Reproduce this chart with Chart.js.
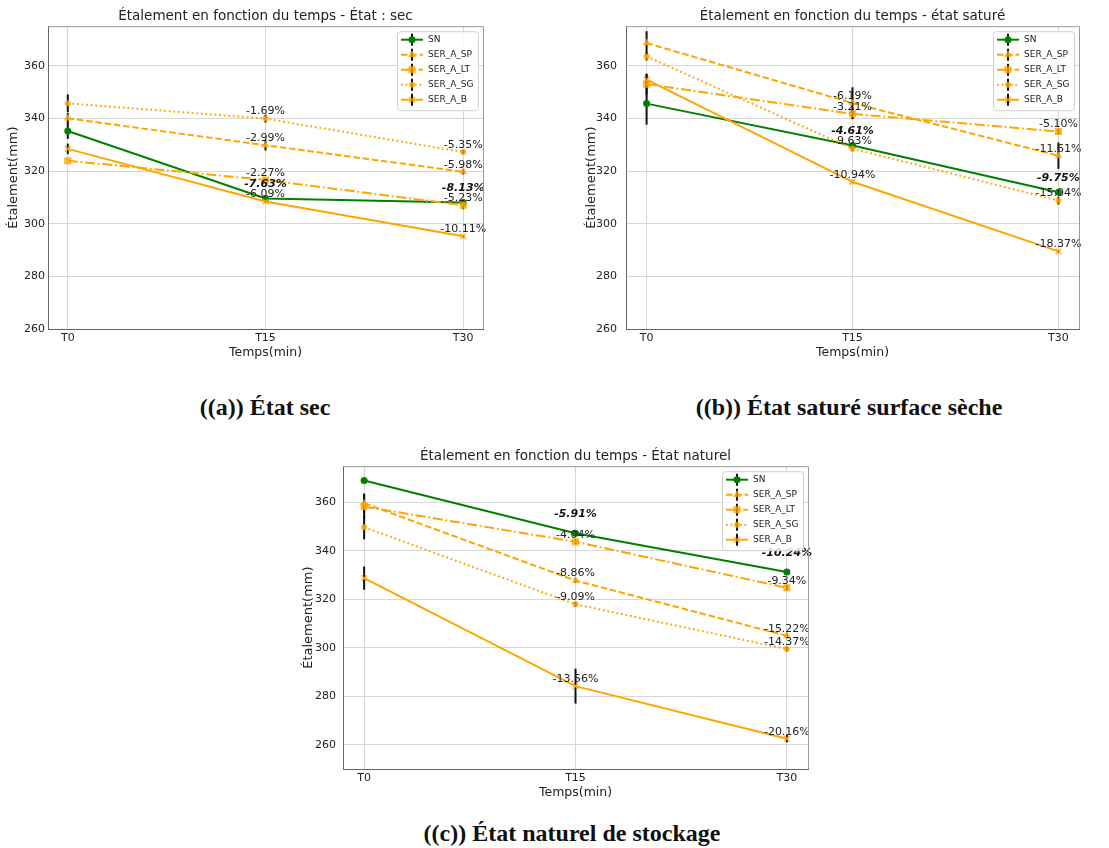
<!DOCTYPE html>
<html><head><meta charset="utf-8">
<script src="https://cdn.jsdelivr.net/npm/chart.js@4.4.1/dist/chart.umd.min.js"></script>
<style>
html,body{margin:0;padding:0;background:#fff;width:1109px;height:848px;overflow:hidden;position:relative}
canvas{position:absolute;display:block}
.cap{position:absolute;font-family:"Liberation Serif","DejaVu Serif",serif;font-weight:bold;font-size:24px;color:#111;white-space:nowrap;transform:translate(-50%,-50%)}
</style></head><body>
<canvas id="cA" width="556" height="362" style="left:0;top:0"></canvas>
<canvas id="cB" width="531" height="362" style="left:578px;top:0"></canvas>
<canvas id="cC" width="543" height="362" style="left:295px;top:440px"></canvas>
<div class="cap" style="left:265px;top:407px">((a)) État sec</div>
<div class="cap" style="left:849px;top:407px">((b)) État saturé surface sèche</div>
<div class="cap" style="left:572px;top:833px">((c)) État naturel de stockage</div>
<script>
const xLabels = ['T0', 'T15', 'T30'];
const seriesNames = ['SN', 'SER_A_SP', 'SER_A_LT', 'SER_A_SG', 'SER_A_B'];
const yTicks = [260, 280, 300, 320, 340, 360];

// (a) État sec
const secSN = [335.2, 309.6, 308.0];
const secSP = [340.0, 329.8, 319.7];
const secLT = [323.9, 316.6, 307.0];
const secSG = [345.7, 339.9, 327.2];
const secB  = [328.4, 308.4, 295.2];
const secErrSN = [3, 0.8, 1];
const secErrSP = [2, 2, 1];
const secErrLT = [0, 0.5, 1.5];
const secErrSG = [3.4, 1.5, 0.8];
const secErrB  = [2, 0.5, 0.5];
const secPctSN = [null, '-7.63%', '-8.13%'];
const secPctSP = [null, '-2.99%', '-5.98%'];
const secPctLT = [null, '-2.27%', '-5.23%'];
const secPctSG = [null, '-1.69%', '-5.35%'];
const secPctB  = [null, '-6.09%', '-10.11%'];

// (b) État saturé
const satSN = [345.6, 329.7, 311.9];
const satSP = [368.6, 345.8, 325.8];
const satLT = [353.0, 341.7, 335.0];
const satSG = [363.5, 328.5, 308.8];
const satB  = [354.7, 315.9, 289.5];
const satErrSN = [8, 1, 1];
const satErrSP = [4.5, 6, 5];
const satErrLT = [4, 2, 1];
const satErrSG = [1.5, 1, 1.5];
const satErrB  = [2, 0.5, 0.5];
const satPctSN = [null, '-4.61%', '-9.75%'];
const satPctSP = [null, '-6.19%', '-11.61%'];
const satPctLT = [null, '-3.21%', '-5.10%'];
const satPctSG = [null, '-9.63%', '-15.04%'];
const satPctB  = [null, '-10.94%', '-18.37%'];

// (c) État naturel
const natSN = [369.1, 347.3, 331.3];
const natSP = [359.7, 327.8, 305.0];
const natLT = [358.3, 343.8, 324.8];
const natSG = [349.8, 318.0, 299.5];
const natB  = [328.8, 284.2, 262.5];
const natErrSN = [0, 0, 0];
const natErrSP = [4, 1, 1];
const natErrLT = [5, 1, 1];
const natErrSG = [5, 1, 1];
const natErrB  = [4.8, 7.2, 1.5];
const natPctSN = [null, '-5.91%', '-10.24%'];
const natPctSP = [null, '-8.86%', '-15.22%'];
const natPctLT = [null, '-4.04%', '-9.34%'];
const natPctSG = [null, '-9.09%', '-14.37%'];
const natPctB  = [null, '-13.56%', '-20.16%'];

const ORANGE = '#FFA500';
const ORFILL = 'rgba(255,165,0,0.8)';
const STYLES = [
  {color: '#008000', fill: '#008000', dash: [], ps: 'circle', r: 3.5, bold: true},
  {color: ORANGE, fill: ORFILL, dash: [6.5, 2.8], ps: 'triangle', r: 4.5},
  {color: ORANGE, fill: ORFILL, dash: [10, 2.8, 1.8, 2.8], ps: 'rect', r: 5},
  {color: ORANGE, fill: ORFILL, dash: [1.8, 2.8], ps: 'circle', r: 3},
  {color: ORANGE, fill: ORFILL, dash: [], ps: 'crossRot', r: 4}
];

Chart.defaults.font.family = "'DejaVu Sans', sans-serif";
Chart.defaults.color = '#222';

function drawMarker(ctx, st, x, y) {
  ctx.save();
  ctx.setLineDash([]);
  ctx.fillStyle = st.fill; ctx.strokeStyle = st.fill; ctx.lineWidth = 1.5;
  const r = st.r;
  ctx.beginPath();
  if (st.ps === 'circle') { ctx.arc(x, y, r, 0, Math.PI * 2); ctx.fill(); }
  else if (st.ps === 'triangle') {
    ctx.moveTo(x, y - r); ctx.lineTo(x + r * 0.87, y + r * 0.5); ctx.lineTo(x - r * 0.87, y + r * 0.5); ctx.closePath(); ctx.fill();
  } else if (st.ps === 'rect') { const s = r * Math.SQRT1_2; ctx.rect(x - s, y - s, 2 * s, 2 * s); ctx.fill(); }
  else { const s = r * 0.75; ctx.moveTo(x - s, y - s); ctx.lineTo(x + s, y + s); ctx.moveTo(x + s, y - s); ctx.lineTo(x - s, y + s); ctx.stroke(); }
  ctx.restore();
}

const errPlugin = {
  id: 'errbars',
  beforeDatasetsDraw(chart) {
    const {ctx, scales: {x, y}} = chart;
    ctx.save();
    ctx.strokeStyle = '#111'; ctx.lineWidth = 2; ctx.setLineDash([]);
    chart.data.datasets.forEach(ds => {
      ds.errors.forEach((e, i) => {
        if (!e) return;
        const px = x.getPixelForValue(i);
        const v = ds.data[i].y;
        ctx.beginPath();
        ctx.moveTo(px, y.getPixelForValue(v - e));
        ctx.lineTo(px, y.getPixelForValue(v + e));
        ctx.stroke();
      });
    });
    ctx.restore();
  }
};

const labelPlugin = {
  id: 'pctlabels',
  afterDatasetsDraw(chart, args, opts) {
    const ctx = chart.ctx;
    ctx.save();
    ctx.textAlign = 'center'; ctx.textBaseline = 'middle';
    chart.data.datasets.forEach((ds, di) => {
      const meta = chart.getDatasetMeta(di);
      ds.pct.forEach((t, i) => {
        if (!t) return;
        const el = meta.data[i];
        if (ds.boldLabels) { ctx.font = "italic bold 11px 'DejaVu Sans'"; ctx.fillStyle = '#111'; ctx.fillText(t, el.x, el.y - opts.boldOff); }
        else { ctx.font = "11px 'DejaVu Sans'"; ctx.fillStyle = '#222'; ctx.fillText(t, el.x, el.y - 7); }
      });
    });
    ctx.restore();
  }
};

const framePlugin = {
  id: 'frame',
  afterDraw(chart) {
    const {ctx, chartArea: a} = chart;
    ctx.save();
    ctx.strokeStyle = '#999'; ctx.lineWidth = 1;
    ctx.beginPath();
    ctx.moveTo(a.left, a.top + 0.5); ctx.lineTo(a.right + 0.5, a.top + 0.5); ctx.lineTo(a.right + 0.5, a.bottom);
    ctx.stroke();
    // legend
    const w = 81, h = 79;
    const bx = a.right - 5 - w, by = a.top + 5;
    ctx.fillStyle = 'rgba(255,255,255,0.85)';
    ctx.strokeStyle = '#d0d0d0';
    ctx.beginPath();
    if (ctx.roundRect) ctx.roundRect(bx + 0.5, by + 0.5, w, h, 3); else ctx.rect(bx + 0.5, by + 0.5, w, h);
    ctx.fill(); ctx.stroke();
    ctx.font = "9px 'DejaVu Sans'"; ctx.textAlign = 'left'; ctx.textBaseline = 'middle';
    chart.data.datasets.forEach((ds, i) => {
      const st = STYLES[i];
      const cy = by + 8.5 + i * 15;
      const x0 = bx + 4, x1 = bx + 26, cx = (x0 + x1) / 2;
      ctx.save();
      ctx.strokeStyle = st.color; ctx.lineWidth = 2; ctx.setLineDash(st.dash);
      ctx.beginPath(); ctx.moveTo(x0, cy); ctx.lineTo(x1, cy); ctx.stroke();
      ctx.setLineDash([]); ctx.strokeStyle = '#111'; ctx.lineWidth = 2;
      ctx.beginPath(); ctx.moveTo(cx, cy - 6); ctx.lineTo(cx, cy + 6); ctx.stroke();
      ctx.restore();
      drawMarker(ctx, st, cx, cy);
      ctx.fillStyle = '#222';
      ctx.fillText(ds.label, bx + 31, cy);
    });
    ctx.restore();
  }
};

function build(id, title, yMin, yMax, values, errs, pcts, o) {
  const datasets = values.map((vals, i) => {
    const st = STYLES[i];
    return {
      label: seriesNames[i],
      data: vals.map((v, k) => ({x: k, y: v})),
      errors: errs[i],
      pct: pcts[i],
      boldLabels: !!st.bold,
      borderColor: st.color,
      borderWidth: 2,
      borderDash: st.dash,
      backgroundColor: st.fill,
      pointStyle: st.ps,
      pointRadius: st.r,
      pointBackgroundColor: st.fill,
      pointBorderColor: st.fill,
      pointBorderWidth: st.ps === 'crossRot' ? 1.5 : 0,
      tension: 0,
      fill: false,
      order: 4 - i
    };
  });
  new Chart(document.getElementById(id), {
    type: 'line',
    data: {datasets},
    plugins: [errPlugin, labelPlugin, framePlugin],
    options: {
      responsive: false,
      animation: false,
      devicePixelRatio: 1,
      layout: {padding: {left: 0, right: o.padRight, top: 0, bottom: 0}},
      plugins: {
        legend: {display: false},
        tooltip: {enabled: false},
        pctlabels: {boldOff: o.boldOff},
        title: {display: true, text: title, fullSize: false, color: '#222',
                font: {size: 13.5, weight: 'normal'}, padding: {top: 8, bottom: 2}}
      },
      scales: {
        x: {
          type: 'linear', min: -0.1, max: 2.1,
          afterBuildTicks: s => { s.ticks = xLabels.map((_, i) => ({value: i})); },
          afterFit: s => { s.height = 33; },
          ticks: {callback: v => xLabels[v] ?? '', font: {size: 11}, color: '#222', padding: 3, maxRotation: 0},
          grid: {color: '#d6d6d6', drawTicks: false},
          border: {display: true, color: '#666'},
          title: {display: true, text: 'Temps(min)', color: '#222', font: {size: 12.5}, padding: {top: 0, bottom: 2}}
        },
        y: {
          type: 'linear', min: yMin, max: yMax,
          afterBuildTicks: s => { s.ticks = yTicks.map(v => ({value: v})); },
          afterFit: s => { s.width = 48; },
          ticks: {font: {size: 11}, color: '#222', padding: o.yPad},
          grid: {color: '#d6d6d6', drawTicks: false},
          border: {display: true, color: '#666'},
          title: {display: true, text: 'Étalement(mm)', color: '#222', font: {size: 13}, padding: {top: 6, bottom: 0}}
        }
      }
    }
  });
}

build('cA', 'Étalement en fonction du temps - État : sec', 260, 375,
  [secSN, secSP, secLT, secSG, secB],
  [secErrSN, secErrSP, secErrLT, secErrSG, secErrB],
  [secPctSN, secPctSP, secPctLT, secPctSG, secPctB],
  {padRight: 73, yPad: 3, boldOff: 14});
build('cB', 'Étalement en fonction du temps - état saturé', 260, 375,
  [satSN, satSP, satLT, satSG, satB],
  [satErrSN, satErrSP, satErrLT, satErrSG, satErrB],
  [satPctSN, satPctSP, satPctLT, satPctSG, satPctB],
  {padRight: 30, yPad: 9, boldOff: 14});
build('cC', 'Étalement en fonction du temps - État naturel', 250, 375,
  [natSN, natSP, natLT, natSG, natB],
  [natErrSN, natErrSP, natErrLT, natErrSG, natErrB],
  [natPctSN, natPctSP, natPctLT, natPctSG, natPctB],
  {padRight: 30, yPad: 7, boldOff: 19});
</script>
</body></html>
